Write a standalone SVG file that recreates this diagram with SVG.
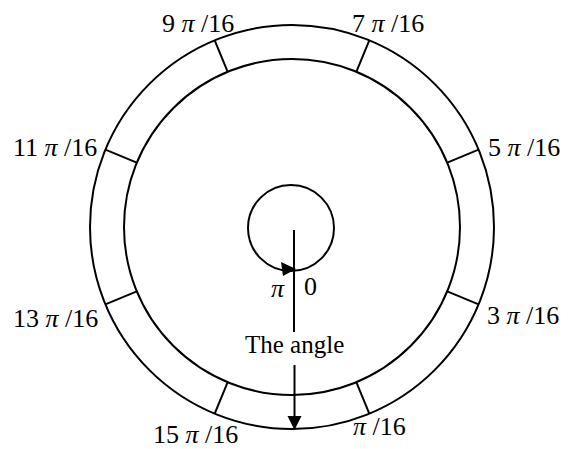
<svg xmlns="http://www.w3.org/2000/svg" width="576" height="449" viewBox="0 0 576 449">
<style>
.ln{fill:none;stroke:#000;stroke-width:2}
.t{font-family:"Liberation Serif","Times New Roman",serif;font-size:26px;fill:#000}
.p{font-style:italic}
</style>
<rect width="576" height="449" fill="#fff"/>
<g id="ring">
<circle class="ln" cx="292" cy="227" r="202"/>
<circle class="ln" cx="292" cy="227" r="168"/>
<line class="ln" x1="369.3" y1="40.4" x2="356.3" y2="71.8"/>
<line class="ln" x1="214.7" y1="40.4" x2="227.7" y2="71.8"/>
<line class="ln" x1="478.6" y1="149.7" x2="447.2" y2="162.7"/>
<line class="ln" x1="105.4" y1="149.7" x2="136.8" y2="162.7"/>
<line class="ln" x1="478.6" y1="304.3" x2="447.2" y2="291.3"/>
<line class="ln" x1="105.4" y1="304.3" x2="136.8" y2="291.3"/>
<line class="ln" x1="369.3" y1="413.6" x2="356.3" y2="382.2"/>
<line class="ln" x1="214.7" y1="413.6" x2="227.7" y2="382.2"/>
</g>
<g id="labels">
<text class="t" x="162" y="32">9 <tspan class="p">π</tspan> /16</text>
<text class="t" x="352" y="32">7 <tspan class="p">π</tspan> /16</text>
<text class="t" x="488" y="156">5 <tspan class="p">π</tspan> /16</text>
<text class="t" x="487" y="324">3 <tspan class="p">π</tspan> /16</text>
<text class="t" x="13" y="156">11 <tspan class="p">π</tspan> /16</text>
<text class="t" x="13" y="327">13 <tspan class="p">π</tspan> /16</text>
<text class="t" x="153" y="443">15 <tspan class="p">π</tspan> /16</text>
<text class="t" x="353" y="435"><tspan class="p">π</tspan> /16</text>
</g>
<g id="rotation">
<circle class="ln" cx="291" cy="228" r="43"/>
<polygon points="296,269 281,262 283,276" fill="#000"/>
<text class="t p" x="271" y="297">π</text>
<text class="t" x="304" y="295">0</text>
</g>
<g id="connectors">
<line class="ln" x1="294" y1="230" x2="294" y2="332"/>
<line class="ln" x1="294.5" y1="365" x2="294.5" y2="418"/>
<polygon points="287.5,416 301.5,416 294.5,430" fill="#000"/>
</g>
<g id="angle-label">
<text class="t" x="245" y="353" style="font-size:25px">The angle</text>
</g>
</svg>
